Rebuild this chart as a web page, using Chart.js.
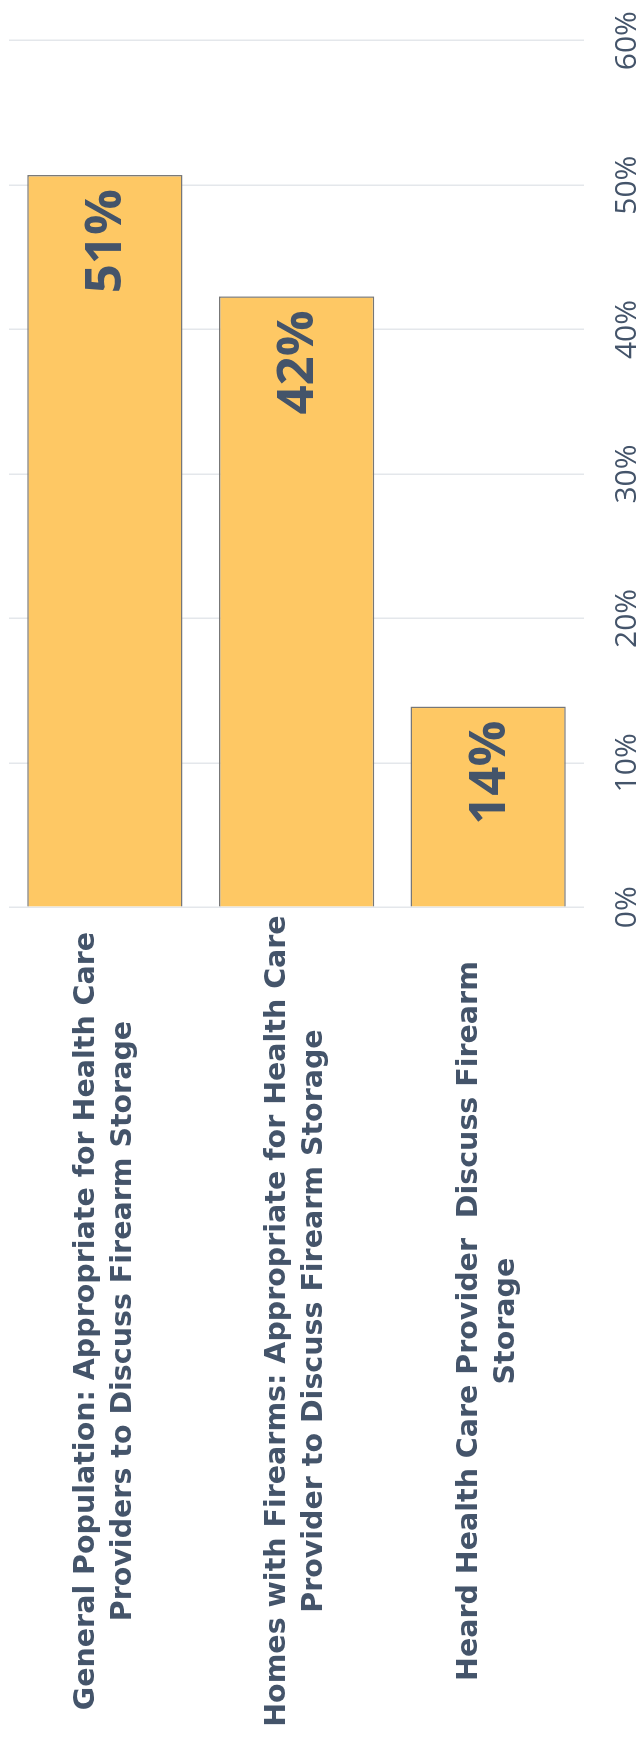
<!DOCTYPE html>
<html>
<head>
<meta charset="utf-8">
<script src="https://cdn.jsdelivr.net/npm/chart.js@4/dist/chart.umd.min.js"></script>
<style>
  html, body { margin: 0; padding: 0; background: #ffffff; overflow: hidden; }
  #wrap {
    position: absolute; left: 0; top: 0;
    width: 1758px; height: 642px;
    transform-origin: 0 0;
    transform: translateY(1758px) rotate(-90deg);
  }
</style>
</head>
<body>
<div id="wrap"><canvas id="c" width="1758" height="642"></canvas></div>
<script>
const categories = [
  ["General Population: Appropriate for Health Care", "Providers to Discuss Firearm Storage"],
  ["Homes with Firearms: Appropriate for Health Care", "Provider to Discuss Firearm Storage"],
  ["Heard Health Care Provider  Discuss Firearm", "Storage"]
];
const values = [50.7, 42.3, 13.9];
const tickValues = [0, 10, 20, 30, 40, 50, 60];

const textColor = '#44546A';

const valueLabels = {
  id: 'valueLabels',
  afterDatasetsDraw(chart) {
    const ctx = chart.ctx;
    const meta = chart.getDatasetMeta(0);
    ctx.save();
    ctx.fillStyle = textColor;
    ctx.font = '700 51px "Open Sans"';
    ctx.textAlign = 'right';
    ctx.textBaseline = 'middle';
    meta.data.forEach((bar, i) => {
      ctx.fillText(Math.round(values[i]) + '%', bar.x - 14, bar.y + 2);
    });
    ctx.restore();
  }
};

new Chart(document.getElementById('c'), {
  type: 'bar',
  data: {
    labels: categories,
    datasets: [{
      data: values,
      backgroundColor: '#FEC864',
      borderColor: '#777777',
      borderWidth: 1.5,
      categoryPercentage: 0.9,
      barPercentage: 0.9
    }]
  },
  options: {
    indexAxis: 'y',
    responsive: false,
    animation: false,
    devicePixelRatio: 1,
    layout: { padding: { left: 0, right: 40.7, top: 9, bottom: 0 } },
    plugins: { legend: { display: false }, tooltip: { enabled: false } },
    scales: {
      x: {
        position: 'bottom',
        min: 0, max: 60,
        afterBuildTicks(scale) { scale.ticks = tickValues.map(v => ({ value: v })); },
        grid: { color: '#E4E7EB', lineWidth: 1.5, drawTicks: false },
        border: { display: false },
        ticks: {
          color: textColor,
          font: { family: '"Open Sans"', size: 30, weight: '400' },
          padding: 25,
          maxRotation: 0,
          callback: v => v + '%'
        },
        afterFit(scale) {
          scale.height = 58;
          scale.paddingLeft = 0; scale.paddingRight = 0;
        }
      },
      y: {
        grid: { display: false, drawTicks: false },
        border: { display: false },
        ticks: {
          color: textColor,
          crossAlign: 'center',
          padding: 8,
          font: { family: '"DejaVu Sans"', size: 28.5, weight: '700', lineHeight: 1.3 }
        },
        afterFit(scale) {
          scale.width = 850.7;
          scale.paddingTop = 0; scale.paddingBottom = 0;
        }
      }
    }
  },
  plugins: [valueLabels]
});
</script>
</body>
</html>
